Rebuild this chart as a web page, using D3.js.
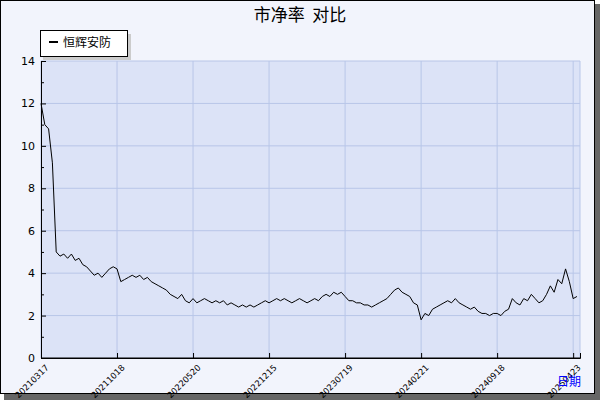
<!DOCTYPE html><html><head><meta charset="utf-8"><script src="https://cdn.jsdelivr.net/npm/d3@7"></script>
<style>body{margin:0}svg{display:block}</style></head><body><svg width="600" height="400"></svg><script>
const tickLabels=["20210317","20211018","20220520","20221215","20230719","20240221","20240918","20250423"];
const tickIndex=[0,20,40,60,80,100,120,140];
const seriesName="恒辉安防";
const values=[12.0,11.0,10.8,9.2,5.0,4.8,4.9,4.7,4.9,4.6,4.7,4.4,4.3,4.1,3.9,4.0,3.8,4.0,4.2,4.3,
4.2,3.6,3.7,3.8,3.9,3.8,3.9,3.7,3.8,3.6,3.5,3.4,3.3,3.2,3.0,2.9,2.8,3.0,2.7,2.6,
2.8,2.6,2.7,2.8,2.7,2.6,2.7,2.6,2.7,2.5,2.6,2.5,2.4,2.5,2.4,2.5,2.4,2.5,2.6,2.7,
2.6,2.7,2.8,2.7,2.8,2.7,2.6,2.7,2.8,2.7,2.6,2.7,2.8,2.7,2.9,3.0,2.9,3.1,3.0,3.1,
2.9,2.7,2.7,2.6,2.6,2.5,2.5,2.4,2.5,2.6,2.7,2.8,3.0,3.2,3.3,3.1,3.0,2.9,2.6,2.5,
1.8,2.1,2.0,2.3,2.4,2.5,2.6,2.7,2.6,2.8,2.6,2.5,2.4,2.3,2.4,2.2,2.1,2.1,2.0,2.1,
2.1,2.0,2.2,2.3,2.8,2.6,2.5,2.8,2.7,3.0,2.8,2.6,2.7,3.0,3.4,3.1,3.7,3.5,4.2,3.6,2.8,2.9];
const svg=d3.select("svg");
svg.append("rect").attr("x",4).attr("y",4).attr("width",596).attr("height",396).attr("fill","#666");
svg.append("rect").attr("x",0.5).attr("y",0.5).attr("width",594).attr("height",393).attr("fill","#f2f4fc").attr("stroke","#000");
const L=41,R=580,T=61,B=358;
const x=d3.scaleLinear().domain([0,141.8]).range([L,R]);
const y=d3.scaleLinear().domain([0,14]).range([B,T]);
svg.append("rect").attr("x",L).attr("y",T).attr("width",R-L).attr("height",B-T).attr("fill","#dce3f7");
const g=svg.append("g");
g.selectAll(".gx").data(tickIndex).enter().append("line").attr("x1",d=>x(d)).attr("x2",d=>x(d)).attr("y1",T).attr("y2",B).attr("stroke","#b8c6e8");
g.selectAll(".gy").data(d3.range(2,15,2)).enter().append("line").attr("x1",L).attr("x2",R).attr("y1",d=>y(d)).attr("y2",d=>y(d)).attr("stroke","#b8c6e8");
svg.append("line").attr("x1",R).attr("x2",R).attr("y1",T).attr("y2",B).attr("stroke","#b8c6e8");
svg.append("g").attr("transform",`translate(${L},0)`).call(d3.axisRight(y).tickValues(d3.range(0,15,2)).tickSize(5).tickFormat(""));
svg.append("g").attr("transform",`translate(${L},0)`).call(d3.axisRight(y).tickValues(d3.range(1,15,2)).tickSize(3).tickFormat("")).select(".domain").remove();
svg.selectAll(".tick line").attr("stroke","#000");
svg.selectAll(".ylab").data(d3.range(0,15,2)).enter().append("text").attr("x",L-6).attr("y",d=>y(d)+4).attr("text-anchor","end").attr("font-size",11).attr("font-family","DejaVu Sans").text(d=>d);
svg.append("g").attr("transform",`translate(0,${B})`).call(d3.axisTop(x).tickValues(tickIndex).tickSize(5).tickFormat("")).selectAll("line").attr("stroke","#000");
svg.append("line").attr("x1",L).attr("x2",R).attr("y1",B).attr("y2",B).attr("stroke","#000");
svg.selectAll(".xlab").data(tickIndex).enter().append("text").attr("transform",(d)=>`translate(${x(d)+4},${B+6}) rotate(-45)`).attr("text-anchor","end").attr("font-size",8.5).attr("font-family","DejaVu Sans").attr("dy","0.7em").text((d,i)=>tickLabels[i]);
svg.append("path").datum(values).attr("fill","none").attr("stroke","#000").attr("stroke-width",1).attr("d",d3.line().x((d,i)=>x(i)).y(d=>y(d)));
svg.append("text").attr("x",300).attr("y",21).attr("text-anchor","middle").attr("font-size",17).attr("font-family","Noto Sans CJK SC").attr("xml:space","preserve").style("white-space","pre").text("市净率  对比");
svg.append("rect").attr("x",43).attr("y",34).attr("width",88).attr("height",26).attr("fill","#ccc");
svg.append("rect").attr("x",40.5).attr("y",30.5).attr("width",87).attr("height",26).attr("fill","#fff").attr("stroke","#000");
svg.append("line").attr("x1",49).attr("x2",58).attr("y1",42).attr("y2",42).attr("stroke","#000").attr("stroke-width",2);
svg.append("text").attr("x",63).attr("y",47).attr("font-size",12).attr("font-family","Noto Sans CJK SC").text(seriesName);
svg.append("text").attr("x",557).attr("y",386).attr("font-size",12).attr("fill","#0000ff").attr("font-family","Noto Sans CJK SC").text("日期");
</script></body></html>
